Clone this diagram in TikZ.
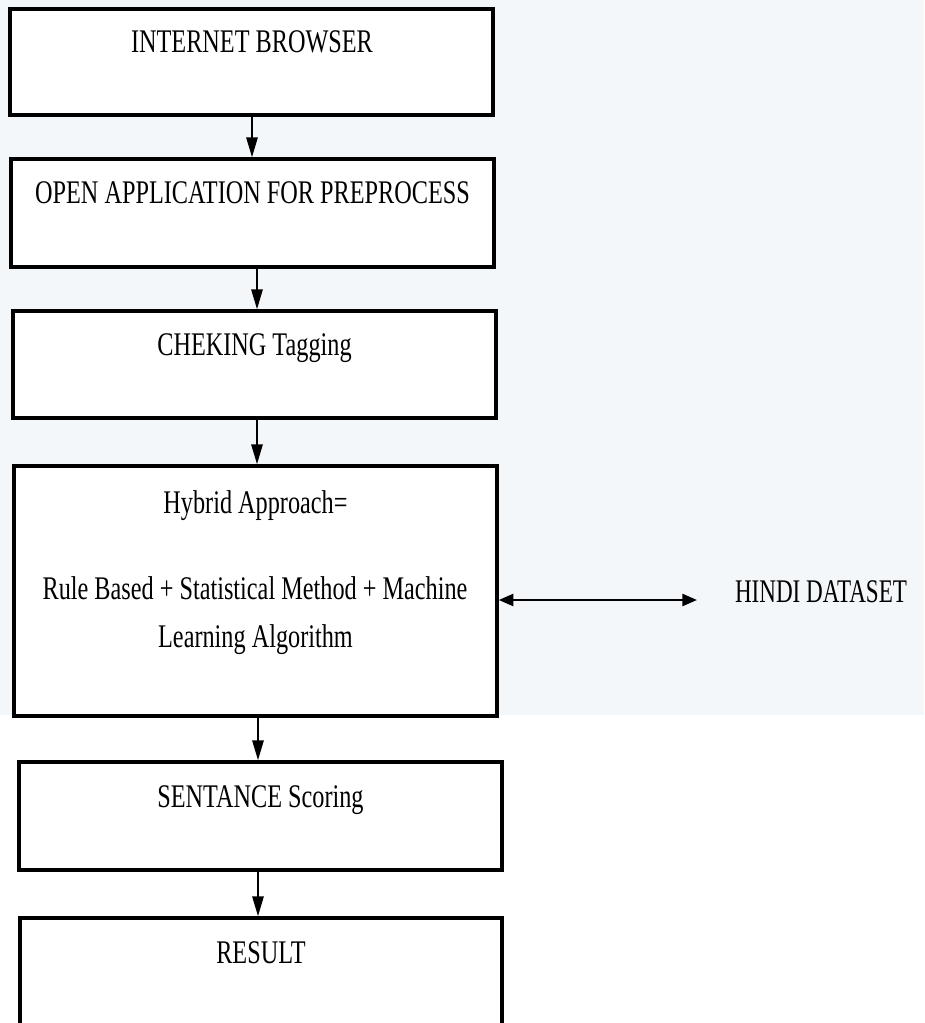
\documentclass[tikz,border=0pt]{standalone}
\usepackage{fontspec}
\usetikzlibrary{arrows.meta}
\newfontfamily\boxfont[FakeStretch=0.735]{Liberation Serif}
\newfontfamily\sidefont[FakeStretch=0.70]{Liberation Serif}
\definecolor{panelbg}{RGB}{244,247,250}
\tikzset{
  stage/.style={draw=black, fill=white, line width=2.6pt, inner sep=0pt, minimum width=362.25pt},
  caption/.style={anchor=base, inner sep=0pt, font=\boxfont\fontsize{24.75}{36}\selectfont},
  flow/.style={line width=1.5pt, -{Triangle[length=15pt,width=8.5pt]}},
  link/.style={line width=1.8pt, {Triangle[length=11pt,width=9pt]}-{Triangle[length=11pt,width=9pt]}}
}
\begin{document}
\begin{tikzpicture}[x=0.75pt,y=-0.75pt]
\useasboundingbox (0,0) rectangle (924,1023);
\clip (0,0) rectangle (924,1023);
% tinted upper panel
\fill[panelbg] (0,0) rectangle (924,715);

% process stages
\node[stage, minimum height=79.5pt]  (b1) at (251.5,62)  {};
\node[stage, minimum height=81pt]    (b2) at (252.5,213) {};
\node[stage, minimum height=80.25pt] (b3) at (254.5,364.5) {};
\node[stage, minimum height=187.5pt] (b4) at (255.5,591) {};
\node[stage, minimum height=81pt]    (b5) at (260.5,816) {};
\node[stage, minimum height=91.5pt, minimum width=361.5pt] (b6) at (261,979) {};

% stage captions
\node[caption] (t1) at (252,53)    {INTERNET BROWSER};
\node[caption] (t2) at (252.5,204) {OPEN APPLICATION FOR PREPROCESS};
\node[caption] (t3) at (254.5,355) {CHEKING Tagging};
\node[caption] (t4a) at (255.5,513) {Hybrid Approach=};
\node[caption] (t4b) at (255,599)  {Rule Based + Statistical Method + Machine};
\node[caption] (t4c) at (255.5,647) {Learning Algorithm};
\node[caption] (t5) at (260.5,807) {SENTANCE Scoring};
\node[caption] (t6) at (261,963)   {RESULT};

% external data source
\node[caption, font=\sidefont\fontsize{24.75}{36}\selectfont] (hindi) at (821,602) {HINDI DATASET};
\coordinate (dsend) at (697,600);

% flow between stages
\draw[flow] (b1.south -| 252,0) -- (b2.north -| 252,0);
\draw[flow] (b2.south -| 257,0) -- (b3.north -| 257,0);
\draw[flow] (b3.south -| 257,0) -- (b4.north -| 257,0);
\draw[flow] (b4.south -| 258,0) -- (b5.north -| 258,0);
\draw[flow] (b5.south -| 258,0) -- (b6.north -| 258,0);

% exchange with the dataset
\draw[link] (b4.east |- dsend) -- (dsend);
\end{tikzpicture}
\end{document}
